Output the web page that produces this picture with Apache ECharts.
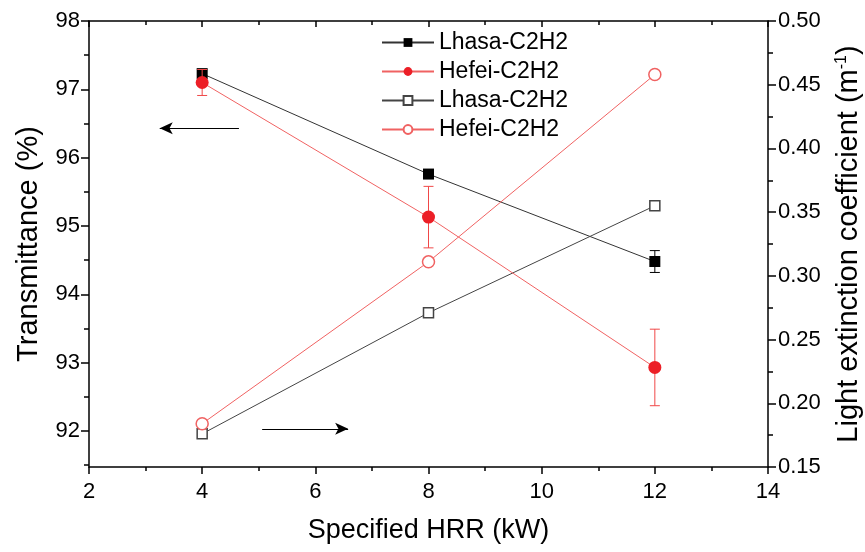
<!DOCTYPE html>
<html>
<head>
<meta charset="utf-8">
<script src="https://cdn.jsdelivr.net/npm/echarts@6/dist/echarts.min.js"></script>
<style>
  html, body { margin: 0; padding: 0; background: #fff; }
  #chart { width: 865px; height: 552px; }
</style>
</head>
<body>
<div id="chart"></div>
<script>
// HRR values (kW)
const hrr = [4, 8, 12]

// transmittance (%), left axis
const lhasaTrans = [97.23, 95.76, 94.48]
const lhasaTransErr = [0.04, 0.05, 0.16]
const hefeiTrans = [97.10, 95.13, 92.93]
const hefeiTransErr = [0.19, 0.45, 0.56]

// light extinction coefficient (1/m), right axis
const lhasaExt = [0.176, 0.271, 0.355]
const hefeiExt = [0.184, 0.311, 0.458]

// tick labels
const leftTicks = [92, 93, 94, 95, 96, 97, 98]
const leftMinorTicks = [91.5, 92.5, 93.5, 94.5, 95.5, 96.5, 97.5]

// arrows pointing to each axis: [x start, x end, y]
const leftArrow = [4.65, 3.25, 96.43]
const rightArrow = [5.06, 6.58, 0.18]

const font = 'Liberation Sans, Arial, sans-serif'
const chart = echarts.init(document.getElementById('chart'))

function errorBars(color) {
  return function (params, api) {
    const x = api.value(0)
    const top = api.coord([x, api.value(2)])
    const bot = api.coord([x, api.value(1)])
    const w = 5
    const style = { stroke: color, lineWidth: 1 }
    return {
      type: 'group',
      children: [
        { type: 'line', shape: { x1: top[0], y1: top[1], x2: bot[0], y2: bot[1] }, style },
        { type: 'line', shape: { x1: top[0] - w, y1: top[1], x2: top[0] + w, y2: top[1] }, style },
        { type: 'line', shape: { x1: bot[0] - w, y1: bot[1], x2: bot[0] + w, y2: bot[1] }, style },
      ],
    }
  }
}

const pairs = (ys) => hrr.map((x, i) => [x, ys[i]])
const errs = (ys, es) => hrr.map((x, i) => [x, ys[i] - es[i], ys[i] + es[i]])

const option = {
  animation: false,
  textStyle: { fontFamily: font },
  grid: { left: 89, right: 97, top: 21, bottom: 85, outerBoundsMode: 'none' },
  legend: {
    orient: 'vertical',
    left: 376,
    top: 26,
    itemWidth: 52,
    itemHeight: 11,
    itemGap: 6,
    textStyle: { fontSize: 23, color: '#000', fontFamily: font },
    data: ['Lhasa-C2H2', 'Hefei-C2H2', 'Lhasa-C2H2 ', 'Hefei-C2H2 '],
    formatter: (name) => name.trim(),
  },
  xAxis: [
    {
      type: 'value',
      min: 2,
      max: 14,
      interval: 2,
      name: 'Specified HRR (kW)',
      nameLocation: 'middle',
      nameGap: 50,
      nameTextStyle: { fontSize: 27, color: '#000' },
      axisLine: { lineStyle: { color: '#000', width: 1.5 } },
      axisTick: { length: 7, lineStyle: { color: '#000', width: 1.5 } },
      minorTick: { show: true, splitNumber: 2, length: 4, lineStyle: { color: '#000', width: 1.5 } },
      axisLabel: { fontSize: 22, color: '#000', margin: 14 },
      splitLine: { show: false },
    },
    {
      type: 'value',
      position: 'top',
      min: 2,
      max: 14,
      interval: 2,
      axisLine: { lineStyle: { color: '#000', width: 1.5 } },
      axisTick: { inside: true, length: 6, lineStyle: { color: '#000', width: 1.5 } },
      minorTick: { show: true, splitNumber: 2, length: 4, lineStyle: { color: '#000', width: 1.5 } },
      axisLabel: { show: false },
      splitLine: { show: false },
    },
  ],
  yAxis: [
    {
      type: 'value',
      position: 'left',
      min: 91.473,
      max: 98,
      name: 'Transmittance (%)',
      nameLocation: 'middle',
      nameRotate: 90,
      nameGap: 46,
      nameTextStyle: { fontSize: 29, color: '#000' },
      axisLine: { lineStyle: { color: '#000', width: 1.5 } },
      axisTick: { customValues: leftTicks, length: 8, lineStyle: { color: '#000', width: 1.5 } },
      axisLabel: {
        customValues: leftTicks,
        fontSize: 22,
        color: '#000',
        margin: 9,
      },
      splitLine: { show: false },
    },
    {
      type: 'value',
      position: 'right',
      min: 0.15,
      max: 0.5,
      interval: 0.05,
      name: 'Light extinction coefficient (m{sup|-1})',
      nameLocation: 'middle',
      nameRotate: 90,
      nameGap: 66,
      nameTextStyle: {
        fontSize: 29,
        color: '#000',
        rich: { sup: { fontSize: 16, color: '#000', padding: [0, 0, 14, 0] } },
      },
      axisLine: { lineStyle: { color: '#000', width: 1.5 } },
      axisTick: { length: 8, lineStyle: { color: '#000', width: 1.5 } },
      minorTick: { show: true, splitNumber: 2, length: 5, lineStyle: { color: '#000', width: 1.5 } },
      axisLabel: { fontSize: 22, color: '#000', margin: 10, formatter: (v) => v.toFixed(2) },
      splitLine: { show: false },
    },
    {
      type: 'value',
      position: 'left',
      min: 91.473,
      max: 98,
      axisLine: { show: false },
      axisTick: { customValues: leftMinorTicks, length: 5, lineStyle: { color: '#000', width: 1.5 } },
      axisLabel: { show: false },
      splitLine: { show: false },
    },
  ],
  series: [
    {
      type: 'custom',
      yAxisIndex: 0,
      z: 1,
      silent: true,
      renderItem: errorBars('#000'),
      data: errs(lhasaTrans, lhasaTransErr),
    },
    {
      name: 'Lhasa-C2H2',
      type: 'line',
      yAxisIndex: 0,
      z: 2,
      data: pairs(lhasaTrans),
      symbol: 'rect',
      symbolSize: 11,
      lineStyle: { color: '#333', width: 1 },
      itemStyle: { color: '#000' },
      markLine: {
        silent: true,
        symbol: ['none', 'arrow'],
        symbolSize: [9, 13],
        label: { show: false },
        lineStyle: { color: '#000', width: 1, type: 'solid' },
        data: [[{ coord: [leftArrow[0], leftArrow[2]] }, { coord: [leftArrow[1], leftArrow[2]] }]],
      },
    },
    {
      type: 'custom',
      yAxisIndex: 0,
      z: 3,
      silent: true,
      renderItem: errorBars('#f04848'),
      data: errs(hefeiTrans, hefeiTransErr),
    },
    {
      name: 'Hefei-C2H2',
      type: 'line',
      yAxisIndex: 0,
      z: 4,
      data: pairs(hefeiTrans),
      symbol: 'circle',
      symbolSize: 13,
      lineStyle: { color: '#f06262', width: 1 },
      itemStyle: { color: '#ec1f27' },
    },
    {
      name: 'Lhasa-C2H2 ',
      type: 'line',
      yAxisIndex: 1,
      z: 2,
      data: pairs(lhasaExt),
      symbol: 'rect',
      symbolSize: 10,
      lineStyle: { color: '#444', width: 1 },
      itemStyle: { color: '#fff', borderColor: '#444', borderWidth: 1.5 },
      markLine: {
        silent: true,
        symbol: ['none', 'arrow'],
        symbolSize: [9, 13],
        label: { show: false },
        lineStyle: { color: '#000', width: 1, type: 'solid' },
        data: [[{ coord: [rightArrow[0], rightArrow[2]] }, { coord: [rightArrow[1], rightArrow[2]] }]],
      },
    },
    {
      name: 'Hefei-C2H2 ',
      type: 'line',
      yAxisIndex: 1,
      z: 2,
      data: pairs(hefeiExt),
      symbol: 'circle',
      symbolSize: 12,
      lineStyle: { color: '#f06262', width: 1 },
      itemStyle: { color: '#fff', borderColor: '#f06262', borderWidth: 1.5 },
    },
  ],
}

chart.setOption(option)
</script>
</body>
</html>
